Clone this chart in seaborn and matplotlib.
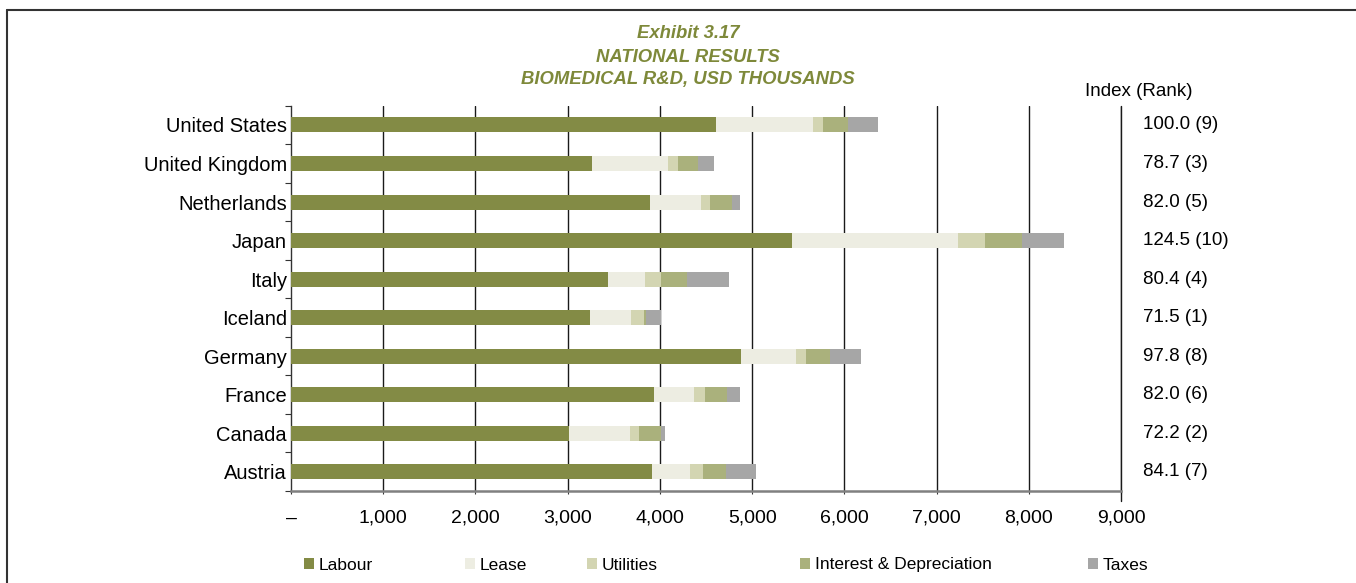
import matplotlib
matplotlib.use("Agg")
import matplotlib.pyplot as plt
from matplotlib.patches import Patch
from matplotlib.lines import Line2D
import seaborn as sns
import pandas as pd

# Cost components per country, USD thousands
countries = ["United States", "United Kingdom", "Netherlands", "Japan", "Italy",
             "Iceland", "Germany", "France", "Canada", "Austria"]
labour = [4610, 3263, 3894, 5435, 3439, 3241, 4880, 3937, 3015, 3915]
lease = [1050, 824, 553, 1793, 395, 442, 596, 433, 660, 412]
utilities = [108, 111, 94, 294, 180, 141, 107, 120, 99, 141]
interest_depr = [270, 210, 240, 402, 283, 21, 266, 236, 240, 249]
taxes = [326, 180, 86, 453, 454, 162, 330, 141, 43, 326]
index_rank = ["100.0 (9)", "78.7 (3)", "82.0 (5)", "124.5 (10)", "80.4 (4)",
              "71.5 (1)", "97.8 (8)", "82.0 (6)", "72.2 (2)", "84.1 (7)"]
x_ticks = [0, 1000, 2000, 3000, 4000, 5000, 6000, 7000, 8000, 9000]
x_tick_labels = ["–", "1,000", "2,000", "3,000", "4,000", "5,000",
                 "6,000", "7,000", "8,000", "9,000"]

components = ["Labour", "Lease", "Utilities", "Interest & Depreciation", "Taxes"]
colors = {
    "Labour": "#838B45",
    "Lease": "#EDEDE2",
    "Utilities": "#D3D5B2",
    "Interest & Depreciation": "#AAB17C",
    "Taxes": "#A6A6A6",
}

df = pd.DataFrame({
    "Country": countries,
    "Labour": labour,
    "Lease": lease,
    "Utilities": utilities,
    "Interest & Depreciation": interest_depr,
    "Taxes": taxes,
})
cum = df[components].cumsum(axis=1)
cum["Country"] = df["Country"]

sns.set_style("white")
plt.rcParams["font.family"] = ["Liberation Sans", "DejaVu Sans"]
plt.rcParams["text.color"] = "black"
plt.rcParams["xtick.color"] = "black"
plt.rcParams["ytick.color"] = "black"
plt.rcParams["xtick.labelcolor"] = "black"
plt.rcParams["ytick.labelcolor"] = "black"

W, H = 1356, 583
fig = plt.figure(figsize=(W / 100, H / 100), dpi=100)
ax = fig.add_axes([291 / W, 1 - 491 / H, (1121 - 291) / W, (491 - 105.7) / H])

# Stacked bars: draw running totals from the outermost layer inward
for comp in reversed(components):
    sns.barplot(data=cum, x=comp, y="Country", order=countries, orient="h",
                color=colors[comp], saturation=1, width=0.39,
                edgecolor="none", linewidth=0, ax=ax, zorder=3)

ax.set_xlim(0, 9000)
ax.set_ylim(len(countries) - 0.5, -0.5)
ax.set_xlabel("")
ax.set_ylabel("")

# Vertical gridlines
for v in x_ticks[1:]:
    ax.axvline(v, color="#1a1a1a", lw=1.0, zorder=1)
ax.axvline(9000, ymin=-0.025, ymax=1, color="#1a1a1a", lw=1.0, zorder=1, clip_on=False)

ax.set_xticks(x_ticks)
ax.set_xticklabels(x_tick_labels)
ax.tick_params(axis="x", which="major", direction="out", length=2.5, width=0.8,
               color="#333333", pad=11, labelsize=14, bottom=True)

ax.set_yticks(range(len(countries)))
ax.set_yticklabels(countries)
ax.set_yticks([i - 0.5 for i in range(len(countries) + 1)], minor=True)
ax.tick_params(axis="y", which="major", length=0, pad=3, labelsize=14.5)
ax.tick_params(axis="y", which="minor", direction="out", length=4, width=0.8,
               color="#333333", left=True)

for side in ["top", "right"]:
    ax.spines[side].set_visible(False)
ax.spines["left"].set_color("#333333")
ax.spines["left"].set_linewidth(1.0)
ax.spines["bottom"].set_color("#808080")
ax.spines["bottom"].set_linewidth(1.8)

# Index (Rank) column
for i, lab in enumerate(index_rank):
    ax.text(9240, i, lab, va="center", ha="left", fontsize=13.5, clip_on=False)
fig.text(1085 / W, 1 - 92 / H, "Index (Rank)", ha="left", va="center", fontsize=13.5)

# Title
title_color = "#7E893A"
for txt, yy in [("Exhibit 3.17", 33), ("NATIONAL RESULTS", 57),
                ("BIOMEDICAL R&D, USD THOUSANDS", 80)]:
    fig.text(688 / W, 1 - yy / H, txt, ha="center", va="center", fontsize=13.3,
             fontweight="bold", fontstyle="italic", color=title_color)

# Legend entries
legend_x = [304, 465, 587, 800, 1088]
for comp, lx in zip(components, legend_x):
    fig.legend(handles=[Patch(facecolor=colors[comp], edgecolor="none", label=comp)],
               loc="center left", bbox_to_anchor=(lx / W, 1 - 565 / H),
               frameon=False, fontsize=12.5, borderpad=0, borderaxespad=0,
               handlelength=0.6, handleheight=0.6, handletextpad=0.25,
               labelcolor="black")

# Outer frame (top and left edges)
fig.add_artist(Line2D([7 / W, 1.0], [1 - 10 / H, 1 - 10 / H], color="#333333",
                      lw=1.5, transform=fig.transFigure))
fig.add_artist(Line2D([7 / W, 7 / W], [1 - 10 / H, 0.0], color="#333333",
                      lw=1.5, transform=fig.transFigure))

fig.savefig("out.png", dpi=100)
